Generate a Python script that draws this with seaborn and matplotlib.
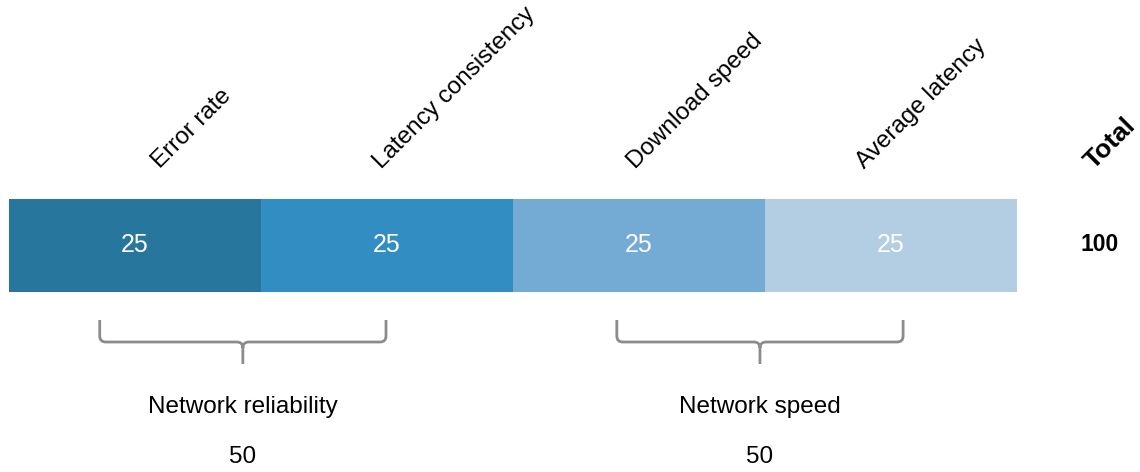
import numpy as np
import pandas as pd
import matplotlib
matplotlib.use("Agg")
import matplotlib.pyplot as plt
import seaborn as sns
from matplotlib.path import Path
from matplotlib.patches import PathPatch
from matplotlib import transforms

# ---- data -------------------------------------------------------------
metrics = ["Error rate", "Latency consistency", "Download speed", "Average latency"]
scores = [25, 25, 25, 25]
metric_group = ["Network reliability", "Network reliability", "Network speed", "Network speed"]
group_names = ["Network reliability", "Network speed"]
total_title = "Total"

# ---- styling ----------------------------------------------------------
colors = ["#27769e", "#318dc2", "#74abd4", "#b3cde3"]
brace_color = "#8c8c8c"
label_nudge = [2.5, -0.5, -0.4, -2.6]      # x shift of the rotated headers (data units)
brace_shift = [-1.8, -0.5]                 # x shift of each group brace (data units)
brace_half = 14.2

sns.set_theme(style="white")
plt.rcParams["font.family"] = ["Liberation Sans", "DejaVu Sans"]

W, H, DPI = 1140, 472, 100
fig = plt.figure(figsize=(W / DPI, H / DPI), dpi=DPI)
fig.patch.set_facecolor("white")
ax = fig.add_axes([9 / W, 1 - 292 / H, 1008 / W, 93 / H])

df = pd.DataFrame({"row": 0, "metric": metrics, "score": scores})
palette = dict(zip(metrics, colors))
sns.histplot(data=df, y="row", weights="score", hue="metric",
             hue_order=metrics[::-1], multiple="stack", discrete=True,
             shrink=1, palette=palette, alpha=1, linewidth=0,
             edgecolor="none", legend=False, ax=ax)
ax.set_xlim(0, sum(scores))
ax.set_ylim(-0.5, 0.5)
ax.axis("off")

vals = np.array(scores, dtype=float)
lefts = np.concatenate([[0], np.cumsum(vals)[:-1]])
centers = lefts + vals / 2

# x in data units, y in figure fraction measured from the top in pixels
trans = transforms.blended_transform_factory(ax.transData, fig.transFigure)
def fy(px):
    return 1 - px / H

# values inside the bar
for c, v in zip(centers, scores):
    ax.text(c, fy(245), f"{v}", transform=trans, ha="center", va="center",
            color="white", fontsize=18)

# rotated headers
for c, m, d in zip(centers, metrics, label_nudge):
    ax.text(c + d, fy(169), m, transform=trans, rotation=45,
            rotation_mode="anchor", ha="left", va="baseline",
            fontsize=17.5, color="black", clip_on=False)

# total column
total = sum(scores)
ax.text(107.6, fy(170), total_title, transform=trans, rotation=45,
        rotation_mode="anchor", ha="left", va="baseline",
        fontsize=19, fontweight="bold", color="black", clip_on=False)
ax.text(108.2, fy(245), f"{total}", transform=trans, ha="center", va="center",
        fontsize=16.5, fontweight="bold", color="black", clip_on=False)

# group braces and subtotals
rx, ry = 0.6, 6 / H
ytop, ymid, ytip = fy(320), fy(342), fy(364)
for gi, g in enumerate(group_names):
    idx = [i for i, mg in enumerate(metric_group) if mg == g]
    start = lefts[idx[0]]
    end = lefts[idx[-1]] + vals[idx[-1]]
    xm = (start + end) / 2 + brace_shift[gi]
    x0, x1 = xm - brace_half, xm + brace_half
    verts = [
        (x0, ytop), (x0, ymid + ry), (x0, ymid), (x0 + rx, ymid),
        (xm - rx, ymid), (xm, ymid), (xm, ymid - ry), (xm, ytip),
        (x1, ytop), (x1, ymid + ry), (x1, ymid), (x1 - rx, ymid),
        (xm + rx, ymid), (xm, ymid), (xm, ymid - ry),
    ]
    codes = [
        Path.MOVETO, Path.LINETO, Path.CURVE3, Path.CURVE3,
        Path.LINETO, Path.CURVE3, Path.CURVE3, Path.LINETO,
        Path.MOVETO, Path.LINETO, Path.CURVE3, Path.CURVE3,
        Path.LINETO, Path.CURVE3, Path.CURVE3,
    ]
    ax.add_patch(PathPatch(Path(verts, codes), transform=trans, fill=False,
                           edgecolor=brace_color, linewidth=2,
                           capstyle="butt", clip_on=False))
    subtotal = int(vals[idx].sum())
    ax.text(xm, fy(407), g, transform=trans, ha="center", va="center",
            fontsize=17.5, color="black", clip_on=False)
    ax.text(xm, fy(457), f"{subtotal}", transform=trans, ha="center",
            va="center", fontsize=17.5, color="black", clip_on=False)

fig.savefig("out.png", dpi=DPI, facecolor="white")
